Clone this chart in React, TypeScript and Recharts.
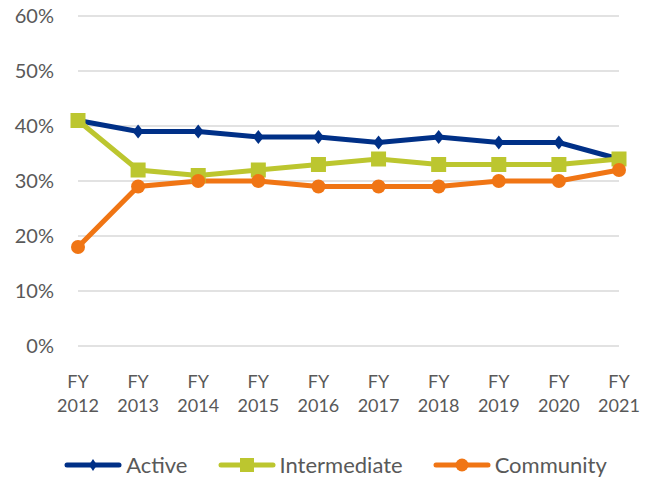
import { LineChart, Line, XAxis, YAxis, CartesianGrid, Legend } from 'recharts';

const years = ['2012', '2013', '2014', '2015', '2016', '2017', '2018', '2019', '2020', '2021'];
const active = [41, 39, 39, 38, 38, 37, 38, 37, 37, 34];
const intermediate = [41, 32, 31, 32, 33, 34, 33, 33, 33, 34];
const community = [18, 29, 30, 30, 29, 29, 29, 30, 30, 32];
const yTicks = [0, 10, 20, 30, 40, 50, 60];

const NAVY = '#003087';
const LIME = '#BCC62F';
const ORANGE = '#F07514';
const GREY = '#595959';
const FONT = 'Lato, "Open Sans", sans-serif';

const rows = years.map((y, i) => ({
  year: y,
  active: active[i],
  intermediate: intermediate[i],
  community: community[i],
}));

function Diamond(props: { cx?: number; cy?: number }) {
  const { cx, cy } = props;
  if (cx == null || cy == null) return <g />;
  return <path d={`M${cx},${cy - 7} L${cx + 5.5},${cy} L${cx},${cy + 7} L${cx - 5.5},${cy} Z`} fill={NAVY} />;
}

function Square(props: { cx?: number; cy?: number }) {
  const { cx, cy } = props;
  if (cx == null || cy == null) return <g />;
  return <rect x={cx - 7.5} y={cy - 7.5} width={15} height={15} fill={LIME} />;
}

function Dot(props: { cx?: number; cy?: number }) {
  const { cx, cy } = props;
  if (cx == null || cy == null) return <g />;
  return <circle cx={cx} cy={cy} r={7} fill={ORANGE} />;
}

function YearTick(props: { x?: number; y?: number; payload?: { value: string } }) {
  const { x = 0, y = 0, payload } = props;
  return (
    <g>
      <text x={x} y={y + 34} textAnchor="middle" fill={GREY} fontSize={18} fontFamily={FONT}>FY</text>
      <text x={x} y={y + 58} textAnchor="middle" fill={GREY} fontSize={18} fontFamily={FONT}>{payload?.value}</text>
    </g>
  );
}

const legendItems = [
  { name: 'Active', color: NAVY, mark: 'diamond' },
  { name: 'Intermediate', color: LIME, mark: 'square' },
  { name: 'Community', color: ORANGE, mark: 'circle' },
];

function LegendRow() {
  return (
    <div style={{ height: 26, display: 'flex', justifyContent: 'center', alignItems: 'center', gap: 30, fontFamily: FONT, fontSize: 22, lineHeight: '26px', color: GREY }}>
      {legendItems.map(it => (
        <span key={it.name} style={{ display: 'inline-flex', alignItems: 'center', gap: 4 }}>
          <svg width={58} height={16}>
            <line x1={3} y1={8} x2={55} y2={8} stroke={it.color} strokeWidth={5} strokeLinecap="round" />
            {it.mark === 'diamond' && <path d="M29,2 L33,8 L29,14 L25,8 Z" fill={it.color} />}
            {it.mark === 'square' && <rect x={22} y={1} width={14} height={14} fill={it.color} />}
            {it.mark === 'circle' && <circle cx={29} cy={8} r={6.5} fill={it.color} />}
          </svg>
          {it.name}
        </span>
      ))}
    </div>
  );
}

export default function App() {
  return (
    <div style={{ position: 'absolute', left: 0, top: 0, width: 651, height: 478, background: '#fff' }}>
      <LineChart width={651} height={478} data={rows} margin={{ top: 16, right: 32, bottom: 0, left: 0 }}>
        <CartesianGrid stroke="#d9d9d9" strokeWidth={1.5} vertical={false} />
        <XAxis
          dataKey="year"
          axisLine={false}
          tickLine={false}
          tick={<YearTick />}
          interval={0}
          height={106}
        />
        <YAxis
          domain={[0, 60]}
          ticks={yTicks}
          tickFormatter={(v: number) => `${v}%`}
          axisLine={false}
          tickLine={false}
          width={78}
          tick={{ fill: GREY, fontSize: 20, fontFamily: FONT }}
          tickMargin={18}
        />
        <Legend verticalAlign="bottom" content={<LegendRow />} wrapperStyle={{ bottom: 0, left: 26 }} />
        <Line dataKey="active" stroke={NAVY} strokeWidth={5} dot={<Diamond />} isAnimationActive={false} />
        <Line dataKey="intermediate" stroke={LIME} strokeWidth={5} dot={<Square />} isAnimationActive={false} />
        <Line dataKey="community" stroke={ORANGE} strokeWidth={5} dot={<Dot />} isAnimationActive={false} />
      </LineChart>
    </div>
  );
}
